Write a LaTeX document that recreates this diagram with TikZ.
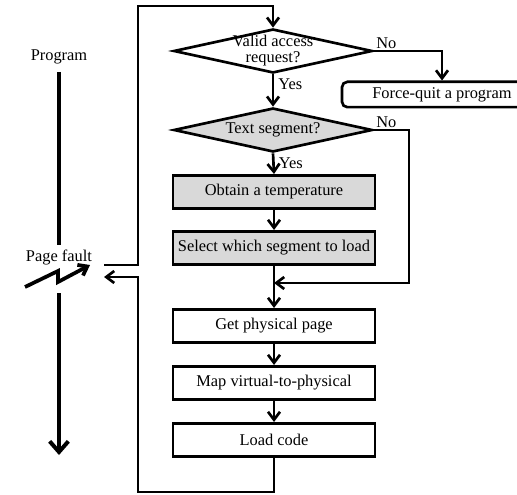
\documentclass[tikz,border=0pt]{standalone}
\usepackage{fontspec}
\setmainfont{Liberation Serif}
\usetikzlibrary{arrows.meta}
\usetikzlibrary{shapes.geometric}

\begin{document}
\begin{tikzpicture}[x=0.75pt,y=-0.75pt,font=\fontsize{12.3}{12}\selectfont]
\tikzset{>={Straight Barb[length=6pt,width=9pt]}}
\tikzstyle{procbox} =[draw, line width=2pt, minimum width=151.5pt, minimum height=25pt, inner sep=0pt]
\tikzstyle{decision} =[draw, diamond, aspect=4.5, line width=2pt, minimum width=149pt, minimum height=33pt, inner sep=0pt, align=center]
\tikzstyle{flow} =[line width=2pt]
\tikzstyle{lbl} =[inner sep=1pt]

\useasboundingbox (0,0) rectangle (517,495);

\node[decision,label={[align=center,inner sep=0pt]center:Valid access\\request?}](valid) at (273,51){};
\node[decision,fill=gray!30](textseg) at (273,130){Text segment?};
\node[procbox,fill=gray!30](obtain) at (274,192){Obtain a temperature};
\node[procbox,fill=gray!30](select) at (274,248){Select which segment to load};
\node[procbox](getpage) at (274,326){Get physical page};
\node[procbox](mapvp) at (274,383){Map virtual-to-physical};
\node[procbox](loadcode) at (274,440){Load code};
\node[draw,line width=2pt,rounded corners=4pt,minimum width=150pt,minimum height=19pt](quit) at (442,94.5){Force-quit a program};

\node(program) at (59,57){Program};
\node(fault) at (59,257){Page fault};
\coordinate (faultout) at (104,265);
\coordinate (faultin) at (104,277);
\coordinate (merge) at (274,283);
\coordinate (mergeside) at (409,283);

% flow of the handler
\draw [->,flow] (faultout) -| (138,6) -| (valid.north);
\draw [->,flow] (valid.east) node[lbl,above right]{No} -| (quit.north);
\draw [->,flow] (valid.south) -- node[lbl,pos=0.3,right,xshift=2pt]{Yes} (textseg.north);
\draw [->,flow] (textseg.east) node[lbl,above right]{No} -| (mergeside) -- (merge);
\draw [->,flow] (textseg.south) -- node[lbl,right,xshift=2pt]{Yes} (obtain.north);
\draw [->,flow] (obtain) -- (select);
\draw [->,flow] (select) -- (getpage);
\draw [->,flow] (getpage) -- (mapvp);
\draw [->,flow] (mapvp) -- (loadcode);
\draw [->,flow] (loadcode.south) |- (138,492) |- (faultin);

% program timeline
\draw [line width=3pt] (59,72) -- (59,245);
\draw [-{Straight Barb[length=8pt,width=14pt]},line width=3pt] (59,293) -- (59,455);
\draw [->,line width=2.8pt,line join=miter] (25,287) -- (58,271) -- (58,282) -- (90,265);
\end{tikzpicture}
\end{document}
